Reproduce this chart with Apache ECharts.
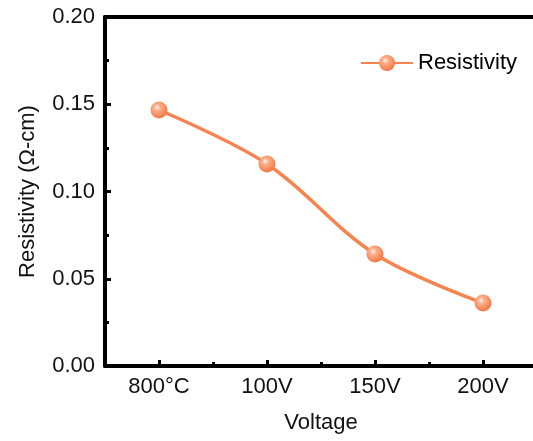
<!DOCTYPE html>
<html><head><meta charset="utf-8">
<script src="https://cdn.jsdelivr.net/npm/echarts@6/dist/echarts.min.js"></script>
<style>html,body{margin:0;padding:0;background:#fff;overflow:hidden}#c{width:545px;height:441px}</style>
</head><body><div id="c"></div>
<script>
const categories = ['800°C', '100V', '150V', '200V'];
const resistivity = [0.1467, 0.1158, 0.0642, 0.0361];
const yTicks = [0, 0.05, 0.10, 0.15, 0.20];

const chart = echarts.init(document.getElementById('c'), null, {renderer: 'canvas'});
const font = 'Arial, "Liberation Sans", sans-serif';
const orange = '#F7834F';
const markerColor = {
  type: 'radial', x: 0.4, y: 0.35, r: 0.65,
  colorStops: [
    {offset: 0, color: '#FFF3EE'},
    {offset: 0.3, color: '#FBAE8A'},
    {offset: 1, color: '#F47843'}
  ]
};
chart.setOption({
  animation: false,
  grid: {left: 105, width: 432, top: 17, height: 349, show: false, containLabel: false},
  legend: {
    show: true, left: 355, top: 47, itemWidth: 52, itemHeight: 20, itemGap: 6,
    textStyle: {fontFamily: font, fontSize: 22, color: '#000'},
    data: ['Resistivity']
  },
  xAxis: [{
    type: 'category', data: categories, boundaryGap: true,
    name: 'Voltage', nameLocation: 'middle', nameGap: 46,
    nameTextStyle: {fontFamily: font, fontSize: 22, color: '#111'},
    axisLine: {lineStyle: {color: '#000', width: 4}},
    axisTick: {show: true, inside: true, alignWithLabel: true, length: 6, lineStyle: {color: '#000', width: 3}},
    axisLabel: {fontFamily: font, fontSize: 22, color: '#111', margin: 10},
    splitLine: {show: false}
  }, {
    type: 'category', data: categories, boundaryGap: true, position: 'bottom',
    axisLine: {show: false},
    axisTick: {show: true, inside: true, length: 4, lineStyle: {color: '#000', width: 3}},
    axisLabel: {show: false}, splitLine: {show: false}
  }, {
    type: 'category', data: categories, boundaryGap: true, position: 'top',
    axisLine: {show: true, lineStyle: {color: '#000', width: 4}},
    axisTick: {show: false}, axisLabel: {show: false}, splitLine: {show: false}
  }],
  yAxis: {
    type: 'value', min: yTicks[0], max: yTicks[yTicks.length - 1], interval: 0.05,
    name: 'Resistivity (Ω-cm)', nameLocation: 'middle', nameGap: 66,
    nameTextStyle: {fontFamily: font, fontSize: 22, color: '#111'},
    axisLine: {show: true, lineStyle: {color: '#000', width: 4}},
    axisTick: {show: true, inside: true, length: 6, lineStyle: {color: '#000', width: 3}},
    minorTick: {show: true, splitNumber: 2, length: 4, lineStyle: {color: '#000', width: 3}},
    axisLabel: {fontFamily: font, fontSize: 22, color: '#111', margin: 10, formatter: v => v.toFixed(2)},
    splitLine: {show: false}
  },
  series: [{
    name: 'Resistivity', type: 'line', data: resistivity, smooth: 0.35,
    symbol: 'circle', symbolSize: 17,
    lineStyle: {color: orange, width: 3.5},
    itemStyle: {color: markerColor, borderWidth: 0}
  }]
});
</script></body></html>
